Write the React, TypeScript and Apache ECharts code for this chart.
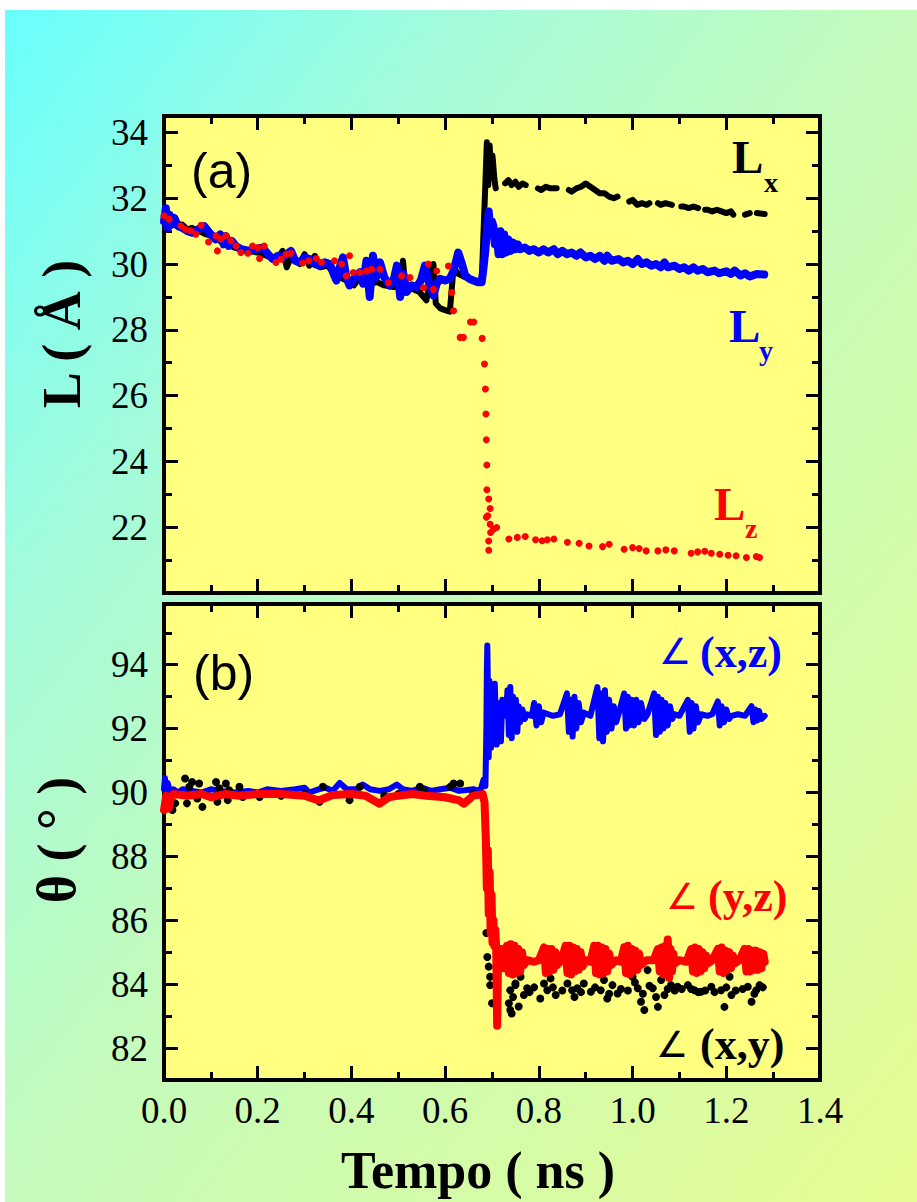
import React, { useEffect, useRef } from "react";
import * as echarts from "echarts";

// ---------- axis ticks ----------
const xMin = 0, xMax = 1.4, xStep = 0.2;
const aMin = 20, aMax = 34.5;
const aMajor = [22, 24, 26, 28, 30, 32, 34];
const aMinor = [21, 23, 25, 27, 29, 31, 33];
const bMin = 81, bMax = 95.9;
const bMajor = [82, 84, 86, 88, 90, 92, 94];
const bMinor = [83, 85, 87, 89, 91, 93, 95];

// ---------- panel (a): box lengths (Å) vs time (ns) ----------
const lxData: any[] = [
  [0.0, 31.4], [0.01, 31.3], [0.02, 31.35], [0.03, 31.2], [0.039, 31.2], [0.05, 31.05], [0.06, 31.1], [0.075, 31.0],
  [0.09, 30.9], [0.105, 30.85], [0.12, 30.7], [0.135, 30.6], [0.15, 30.5], [0.165, 30.45], [0.18, 30.4], [0.2, 30.35],
  [0.22, 30.25], [0.24, 30.1], [0.253, 30.4], [0.262, 29.9], [0.271, 30.2], [0.29, 30.0], [0.3, 30.3], [0.31, 29.95],
  [0.322, 30.25], [0.333, 29.9], [0.35, 29.95], [0.36, 29.75], [0.375, 29.6], [0.39, 29.5], [0.405, 29.35], [0.418, 29.6],
  [0.43, 29.5], [0.44, 29.4], [0.455, 29.45], [0.47, 29.35], [0.49, 29.3], [0.505, 29.35], [0.51, 30.1], [0.515, 29.3],
  [0.53, 29.25], [0.545, 29.15], [0.56, 28.9], [0.568, 29.5], [0.575, 30.0], [0.58, 28.8], [0.59, 28.65], [0.6, 28.6],
  [0.61, 28.55], [0.618, 29.9], [0.628, 29.7], [0.643, 29.6], [0.66, 29.5], [0.678, 29.45], [0.682, 31.0], [0.686, 32.5],
  [0.689, 33.7], [0.692, 32.4], [0.695, 33.6], [0.698, 32.8], [0.701, 33.3], [0.705, 32.6], [0.708, 32.3],
  [0.718, "-"],
  [0.728, 32.45], [0.735, 32.55], [0.742, 32.4], [0.75, 32.5], [0.757, 32.35], [0.765, 32.45], [0.772, 32.4],
  [0.785, "-"],
  [0.798, 32.3], [0.805, 32.25], [0.815, 32.35], [0.825, 32.3], [0.838, 32.3],
  [0.85, "-"],
  [0.864, 32.25], [0.87, 32.2], [0.88, 32.3], [0.89, 32.35], [0.9, 32.45], [0.91, 32.35], [0.92, 32.25], [0.93, 32.15],
  [0.94, 32.15], [0.95, 32.05], [0.96, 32.0], [0.968, 32.05],
  [0.98, "-"],
  [0.993, 31.9], [1.0, 31.95], [1.01, 31.8], [1.02, 31.85], [1.03, 31.8], [1.036, 31.85],
  [1.045, "-"],
  [1.054, 31.85], [1.06, 31.8], [1.07, 31.85], [1.084, 31.8],
  [1.095, "-"],
  [1.104, 31.75], [1.11, 31.75], [1.12, 31.7], [1.13, 31.75], [1.14, 31.7],
  [1.148, "-"],
  [1.155, 31.65], [1.16, 31.65], [1.17, 31.6], [1.18, 31.65], [1.19, 31.6], [1.2, 31.55], [1.21, 31.6], [1.215, 31.5],
  [1.228, "-"],
  [1.24, 31.5], [1.25, 31.55], [1.256, "-"], [1.265, 31.55], [1.282, 31.52],
];

const lyData: number[][] = [
  [0.0, 31.3], [0.004, 31.7], [0.008, 31.1], [0.012, 31.5], [0.017, 31.2], [0.022, 31.4], [0.03, 31.15], [0.039, 31.1],
  [0.05, 31.0], [0.06, 30.95], [0.072, 31.05], [0.086, 31.15], [0.097, 30.95], [0.11, 30.75], [0.12, 30.9], [0.127, 30.6],
  [0.132, 30.85], [0.138, 30.55], [0.145, 30.7], [0.153, 30.55], [0.165, 30.45], [0.182, 30.4], [0.195, 30.45], [0.21, 30.5],
  [0.222, 30.3], [0.232, 30.15], [0.243, 30.25], [0.253, 30.2], [0.262, 30.3], [0.271, 30.4], [0.28, 30.1], [0.289, 30.05],
  [0.3, 30.2], [0.311, 30.15], [0.322, 30.0], [0.332, 29.95], [0.343, 30.05], [0.354, 30.0], [0.362, 29.7], [0.368, 29.5],
  [0.375, 29.9], [0.382, 30.2], [0.389, 29.6], [0.396, 29.35], [0.405, 29.55], [0.418, 29.75], [0.425, 29.4], [0.432, 30.1],
  [0.439, 29.0], [0.446, 30.25], [0.453, 29.6], [0.461, 30.05], [0.47, 29.6], [0.482, 29.35], [0.49, 29.5], [0.497, 29.95],
  [0.504, 29.0], [0.511, 29.7], [0.518, 29.15], [0.528, 29.35], [0.539, 29.3], [0.548, 29.5], [0.557, 29.95], [0.566, 29.4],
  [0.575, 29.05], [0.582, 29.4], [0.589, 29.55], [0.6, 29.5], [0.61, 29.55], [0.618, 29.8], [0.628, 30.35], [0.636, 30.0],
  [0.643, 29.65], [0.652, 29.55], [0.66, 29.5], [0.67, 29.45], [0.678, 29.45], [0.682, 29.9], [0.686, 30.45], [0.69, 31.2],
  [0.693, 31.6], [0.697, 30.9], [0.7, 31.3], [0.703, 31.15], [0.706, 30.6], [0.71, 30.9], [0.714, 30.3], [0.718, 31.0],
  [0.722, 30.3], [0.726, 30.9], [0.73, 30.35], [0.735, 30.75], [0.74, 30.4], [0.745, 30.65], [0.75, 30.45], [0.755, 30.6],
  [0.76, 30.45], [0.77, 30.5], [0.78, 30.4], [0.789, 30.45], [0.8, 30.35], [0.81, 30.45], [0.82, 30.35], [0.832, 30.45],
  [0.84, 30.3], [0.85, 30.4], [0.86, 30.3], [0.87, 30.35], [0.88, 30.25], [0.889, 30.35], [0.9, 30.2], [0.91, 30.25],
  [0.92, 30.15], [0.93, 30.25], [0.94, 30.1], [0.946, 30.25], [0.955, 30.1], [0.97, 30.15], [0.98, 30.05], [0.99, 30.1],
  [1.0, 30.0], [1.011, 30.15], [1.02, 30.0], [1.03, 30.05], [1.04, 29.95], [1.05, 30.0], [1.06, 29.9], [1.068, 30.05],
  [1.075, 29.9], [1.09, 29.95], [1.1, 29.85], [1.11, 29.9], [1.12, 29.8], [1.13, 29.9], [1.139, 29.8], [1.15, 29.85],
  [1.16, 29.75], [1.175, 29.8], [1.185, 29.72], [1.2, 29.78], [1.21, 29.7], [1.218, 29.8], [1.23, 29.65], [1.24, 29.72],
  [1.25, 29.62], [1.265, 29.7], [1.281, 29.68],
];

const lzData: number[][] = [
  [0.0, 31.47], [0.011, 31.36], [0.036, 31.16], [0.046, 31.06], [0.057, 31.01], [0.068, 30.91], [0.079, 31.18], [0.095, 30.67],
  [0.111, 30.86], [0.114, 30.4], [0.121, 30.76], [0.132, 30.86], [0.143, 30.71], [0.154, 30.55], [0.164, 30.35], [0.179, 30.33],
  [0.189, 30.55], [0.2, 30.5], [0.204, 30.17], [0.214, 30.55], [0.239, 30.05], [0.25, 30.15], [0.261, 30.3], [0.271, 30.33],
  [0.296, 30.03], [0.309, 30.1], [0.325, 30.17], [0.336, 30.05], [0.364, 30.1], [0.379, 30.0], [0.389, 29.64], [0.396, 30.25],
  [0.404, 29.74], [0.418, 29.74], [0.432, 29.79], [0.443, 29.84], [0.461, 29.84], [0.479, 29.43], [0.507, 29.64], [0.525, 29.59],
  [0.554, 29.28], [0.564, 30.0], [0.575, 29.23], [0.582, 29.79], [0.607, 29.94], [0.614, 29.13], [0.618, 28.58], [0.632, 27.77],
  [0.639, 27.77], [0.654, 28.24], [0.661, 28.24], [0.679, 27.74], [0.684, 26.96], [0.686, 26.2], [0.687, 25.44], [0.688, 24.66],
  [0.689, 23.89], [0.689, 23.14], [0.693, 22.86], [0.696, 22.57], [0.691, 22.35], [0.688, 22.3], [0.696, 22.09], [0.703, 21.94],
  [0.71, 21.99], [0.697, 21.84], [0.693, 21.58], [0.693, 21.3], [0.736, 21.64], [0.754, 21.69], [0.771, 21.72], [0.793, 21.62],
  [0.807, 21.59], [0.818, 21.62], [0.832, 21.64], [0.861, 21.54], [0.886, 21.51], [0.907, 21.43], [0.936, 21.41], [0.95, 21.48],
  [0.982, 21.33], [1.0, 21.38], [1.014, 21.35], [1.029, 21.28], [1.054, 21.28], [1.071, 21.31], [1.089, 21.28], [1.125, 21.21],
  [1.139, 21.25], [1.154, 21.27], [1.168, 21.21], [1.186, 21.18], [1.204, 21.15], [1.221, 21.13], [1.243, 21.08], [1.264, 21.11],
  [1.271, 21.08],
];

// ---------- panel (b): angles (deg) vs time (ns) ----------
const axzData: number[][] = [
  [0.0, 90.1], [0.002, 90.45], [0.005, 90.0], [0.008, 90.3], [0.012, 90.05], [0.02, 90.1], [0.03, 90.0], [0.04, 90.1],
  [0.06, 90.05], [0.08, 90.0], [0.1, 90.1], [0.12, 90.05], [0.15, 90.0], [0.18, 90.05], [0.2, 90.0], [0.22, 90.1],
  [0.25, 90.05], [0.28, 90.1], [0.3, 90.15], [0.31, 90.0], [0.33, 90.1], [0.345, 90.15], [0.36, 90.05], [0.375, 90.3],
  [0.39, 90.1], [0.41, 90.1], [0.424, 90.25], [0.44, 90.1], [0.46, 90.05], [0.48, 90.1], [0.497, 90.25], [0.51, 90.1],
  [0.53, 90.05], [0.55, 90.15], [0.57, 90.05], [0.59, 90.1], [0.61, 90.15], [0.63, 90.05], [0.66, 90.1], [0.675, 90.05],
  [0.682, 90.4], [0.686, 90.2], [0.688, 92.0], [0.689, 93.8], [0.69, 94.6], [0.6915, 93.0], [0.693, 91.1], [0.6945, 93.5],
  [0.696, 92.2], [0.698, 91.4], [0.7, 93.1], [0.702, 92.0], [0.704, 91.7], [0.706, 93.4], [0.708, 92.3], [0.71, 91.5],
  [0.713, 92.8], [0.716, 92.4], [0.719, 91.6], [0.722, 92.9], [0.725, 92.5], [0.73, 92.4], [0.733, 93.2], [0.736, 91.8],
  [0.739, 93.3], [0.742, 91.7], [0.745, 93.0], [0.748, 92.0], [0.751, 92.9], [0.754, 91.9], [0.757, 92.7], [0.76, 92.2],
  [0.765, 92.6], [0.77, 92.3], [0.775, 92.45], [0.785, 92.4], [0.79, 92.8], [0.795, 92.1], [0.8, 92.7], [0.805, 92.2],
  [0.81, 92.5], [0.82, 92.45], [0.83, 92.4], [0.845, 92.45], [0.86, 93.1], [0.864, 91.9], [0.868, 92.9], [0.872, 91.75],
  [0.876, 93.0], [0.88, 92.0], [0.885, 92.8], [0.89, 92.2], [0.896, 92.5], [0.91, 92.4], [0.925, 93.3], [0.929, 91.7],
  [0.933, 93.1], [0.937, 91.6], [0.941, 93.2], [0.945, 91.9], [0.95, 92.9], [0.955, 92.0], [0.96, 92.7], [0.965, 92.2],
  [0.97, 92.45], [0.982, 93.1], [0.986, 92.0], [0.99, 93.0], [0.994, 92.1], [0.998, 92.9], [1.003, 92.1], [1.008, 92.9],
  [1.013, 92.2], [1.018, 92.8], [1.025, 92.3], [1.032, 92.45], [1.046, 93.1], [1.05, 91.8], [1.054, 93.0], [1.058, 91.9],
  [1.062, 92.9], [1.066, 92.0], [1.07, 92.8], [1.075, 92.1], [1.08, 92.7], [1.085, 92.3], [1.089, 92.45], [1.1, 92.4],
  [1.118, 92.9], [1.122, 91.9], [1.126, 92.8], [1.13, 92.0], [1.135, 92.7], [1.14, 92.2], [1.146, 92.45], [1.16, 92.4],
  [1.17, 92.45], [1.182, 92.85], [1.186, 92.1], [1.19, 92.7], [1.195, 92.2], [1.2, 92.6], [1.206, 92.3], [1.211, 92.4],
  [1.225, 92.45], [1.24, 92.4], [1.254, 92.7], [1.258, 92.2], [1.262, 92.6], [1.266, 92.25], [1.27, 92.55], [1.275, 92.3],
  [1.282, 92.4],
];

const ayzData: number[][] = [
  [0.0, 89.45], [0.005, 89.9], [0.01, 89.5], [0.015, 89.85], [0.02, 89.95], [0.05, 89.9], [0.08, 89.95], [0.1, 89.85],
  [0.13, 89.95], [0.16, 89.9], [0.2, 89.95], [0.25, 89.95], [0.3, 89.9], [0.33, 89.75], [0.36, 89.92], [0.4, 89.95],
  [0.43, 89.9], [0.46, 89.65], [0.48, 89.85], [0.5, 89.9], [0.53, 89.95], [0.56, 89.9], [0.6, 89.85], [0.63, 89.75],
  [0.64, 89.65], [0.66, 89.9], [0.68, 89.95], [0.684, 89.7], [0.687, 88.5], [0.689, 87.0], [0.691, 88.2], [0.693, 86.2],
  [0.695, 87.5], [0.697, 85.6], [0.699, 86.8], [0.701, 85.3], [0.703, 86.0], [0.705, 85.2], [0.707, 85.7], [0.709, 85.1],
  [0.711, 82.7], [0.713, 85.0], [0.716, 84.6], [0.72, 85.1], [0.725, 84.5], [0.728, 84.75],
  [0.732, 85.2], [0.736, 84.35], [0.74, 85.25], [0.744, 84.3], [0.748, 85.2], [0.752, 84.35], [0.756, 85.1], [0.76, 84.4],
  [0.764, 85.0], [0.768, 84.6], [0.775, 84.75], [0.79, 84.7], [0.8, 84.75],
  [0.811, 85.15], [0.815, 84.35], [0.819, 85.1], [0.823, 84.4], [0.827, 85.1], [0.831, 84.45], [0.835, 85.0], [0.839, 84.6],
  [0.848, 84.75],
  [0.857, 85.2], [0.861, 84.35], [0.865, 85.2], [0.869, 84.3], [0.873, 85.15], [0.877, 84.4], [0.881, 85.1], [0.885, 84.45],
  [0.889, 85.0], [0.893, 84.55], [0.9, 84.75], [0.91, 84.7],
  [0.918, 85.2], [0.922, 84.35], [0.926, 85.2], [0.93, 84.3], [0.934, 85.15], [0.938, 84.35], [0.942, 85.1], [0.946, 84.4],
  [0.95, 84.95], [0.954, 84.6], [0.965, 84.75], [0.975, 84.7],
  [0.982, 85.15], [0.986, 84.35], [0.99, 85.2], [0.994, 84.3], [0.998, 85.1], [1.002, 84.4], [1.006, 85.05], [1.01, 84.45],
  [1.014, 84.95], [1.018, 84.6], [1.03, 84.75], [1.045, 84.75],
  [1.054, 85.1], [1.058, 84.4], [1.062, 85.15], [1.066, 84.3], [1.07, 85.2], [1.073, 84.35], [1.075, 85.4], [1.078, 84.2],
  [1.081, 85.1], [1.084, 84.4], [1.087, 84.95], [1.09, 84.65], [1.1, 84.75], [1.115, 84.7],
  [1.125, 85.1], [1.129, 84.4], [1.133, 85.15], [1.137, 84.35], [1.141, 85.1], [1.145, 84.4], [1.149, 85.0], [1.153, 84.5],
  [1.157, 84.9], [1.161, 84.65], [1.17, 84.75],
  [1.182, 85.1], [1.186, 84.4], [1.19, 85.15], [1.194, 84.35], [1.198, 85.05], [1.202, 84.45], [1.206, 85.0], [1.21, 84.5],
  [1.214, 84.9], [1.218, 84.65], [1.228, 84.75],
  [1.239, 85.1], [1.243, 84.4], [1.247, 85.1], [1.251, 84.4], [1.255, 85.05], [1.259, 84.45], [1.263, 85.05], [1.267, 84.45],
  [1.271, 85.0], [1.275, 84.5], [1.279, 84.95], [1.282, 84.7],
];

const axyData: number[][] = [
  [0.018, 89.45], [0.024, 89.66], [0.045, 90.44], [0.049, 89.66], [0.054, 90.18], [0.06, 90.33], [0.071, 89.81], [0.075, 90.28],
  [0.082, 89.55], [0.111, 90.33], [0.114, 89.71], [0.118, 90.13], [0.132, 90.28], [0.136, 89.76], [0.139, 90.07], [0.161, 90.18],
  [0.168, 89.86], [0.204, 89.86], [0.25, 89.9], [0.3, 89.95], [0.332, 89.71], [0.339, 90.18], [0.396, 89.76], [0.418, 90.18],
  [0.47, 89.9], [0.5, 89.95], [0.546, 90.18], [0.554, 90.07], [0.611, 90.18], [0.618, 90.28], [0.632, 90.28], [0.66, 89.95],
  [0.688, 85.6], [0.69, 84.85], [0.693, 84.55], [0.696, 84.23], [0.696, 83.97], [0.7, 83.4], [0.736, 83.4], [0.739, 83.81],
  [0.742, 83.08], [0.75, 84.02], [0.739, 83.19], [0.75, 83.97], [0.761, 84.23], [0.768, 83.66], [0.775, 83.87], [0.803, 83.55],
  [0.811, 84.02], [0.818, 83.81], [0.825, 84.18], [0.836, 83.66], [0.861, 84.02], [0.871, 83.81], [0.882, 83.87], [0.896, 84.02],
  [0.911, 83.76], [0.932, 83.81], [0.939, 84.13], [0.946, 83.55], [0.957, 83.97], [0.968, 83.71], [1.0, 84.23], [1.011, 83.87],
  [1.018, 83.45], [1.025, 83.19], [1.032, 84.44], [1.043, 83.87], [1.054, 83.29], [1.061, 84.13], [1.068, 83.66], [1.082, 83.97],
  [1.096, 83.92], [1.118, 83.97], [1.132, 83.81], [1.146, 83.76], [1.168, 83.92], [1.189, 83.81], [1.196, 83.29], [1.207, 84.23],
  [1.211, 83.66], [1.246, 83.92], [1.254, 83.45], [1.264, 83.81], [1.271, 83.97],
  [0.745, 83.6], [0.757, 83.3], [0.78, 83.75], [0.79, 83.9], [0.83, 83.9], [0.85, 83.8], [0.876, 83.6], [0.89, 83.75],
  [0.92, 83.9], [0.95, 83.7], [0.975, 83.85], [0.99, 83.8], [1.005, 84.05], [1.022, 83.7], [1.036, 83.95], [1.05, 83.6],
  [1.075, 83.85], [1.09, 83.8], [1.105, 83.85], [1.125, 83.85], [1.14, 83.75], [1.155, 83.8], [1.175, 83.75], [1.2, 83.9],
  [1.22, 83.8], [1.235, 83.85], [1.26, 83.7], [1.278, 83.9],
];

const SERIF = "Liberation Serif";
const SANS = "Liberation Sans";
const BLUE = "#0000ff";
const RED = "#ff0000";
const BLACK = "#000000";

function xAxes(grid: number, labels: boolean) {
  const base = (pos: string, show: boolean) => ({
    type: "value",
    gridIndex: grid,
    position: pos,
    min: xMin,
    max: xMax,
    interval: xStep,
    axisLine: { show: false },
    splitLine: { show: false },
    minorSplitLine: { show: false },
    axisTick: { show: true, inside: true, length: 14, lineStyle: { color: BLACK, width: 3 } },
    minorTick: { show: true, splitNumber: 2, length: 8, lineStyle: { color: BLACK, width: 3 } },
    axisLabel: {
      show: show,
      fontSize: 37,
      fontFamily: SERIF,
      color: BLACK,
      margin: 12,
      formatter: (v: number) => v.toFixed(1),
    },
  });
  return [base("bottom", labels), base("top", false)];
}

function yAxes(grid: number, min: number, max: number, major: number[], minor: number[]) {
  const base = (pos: string, ticks: number[], len: number, labels: boolean) => ({
    type: "value",
    gridIndex: grid,
    position: pos,
    min,
    max,
    axisLine: { show: false },
    splitLine: { show: false },
    axisTick: { show: true, inside: true, length: len, customValues: ticks, lineStyle: { color: BLACK, width: 3 } },
    axisLabel: {
      show: labels,
      customValues: major,
      fontSize: 37,
      fontFamily: SERIF,
      color: BLACK,
      margin: 16,
      formatter: (v: number) => String(Math.round(v)),
    },
  });
  return [
    base("left", major, 14, true),
    base("left", minor, 8, false),
    base("right", major, 14, false),
    base("right", minor, 8, false),
  ];
}

function txt(x: number, y: number, text: string, size: number, color: string, opts: any = {}) {
  return {
    type: "text",
    x,
    y,
    rotation: opts.rotation || 0,
    z: 100,
    style: {
      text,
      fill: color,
      fontSize: size,
      fontWeight: opts.weight || "bold",
      fontFamily: opts.family || SERIF,
      align: opts.align || "left",
      textAlign: opts.align || "left",
      verticalAlign: "middle",
      textVerticalAlign: "middle",
    },
  };
}

export default function App() {
  const ref = useRef<HTMLDivElement>(null);
  useEffect(() => {
    if (!ref.current) return;
    const chart = echarts.init(ref.current, null, { renderer: "svg" });
    const gridStyle = { show: true, borderColor: BLACK, borderWidth: 4, backgroundColor: "#ffff80" };
    const option: any = {
      animation: false,
      textStyle: { fontFamily: SERIF },
      backgroundColor: {
        type: "linear",
        x: 0,
        y: 0,
        x2: 1,
        y2: 1,
        colorStops: [
          { offset: 0, color: "#66ffff" },
          { offset: 0.25, color: "#a2fbdc" },
          { offset: 0.5, color: "#c4fbbc" },
          { offset: 1, color: "#e6fc92" },
        ],
      },
      grid: [
        { left: 164, top: 116, width: 656, height: 477, ...gridStyle },
        { left: 164, top: 604, width: 656, height: 476, ...gridStyle },
      ],
      xAxis: [...xAxes(0, false), ...xAxes(1, true)],
      yAxis: [...yAxes(0, aMin, aMax, aMajor, aMinor), ...yAxes(1, bMin, bMax, bMajor, bMinor)],
      series: [
        {
          name: "Lx",
          type: "line",
          xAxisIndex: 0,
          yAxisIndex: 0,
          data: lxData,
          showSymbol: false,
          connectNulls: false,
          lineStyle: { color: BLACK, width: 6, cap: "round", join: "round" },
          itemStyle: { color: BLACK },
          z: 2,
        },
        {
          name: "Ly",
          type: "line",
          xAxisIndex: 0,
          yAxisIndex: 0,
          data: lyData,
          showSymbol: false,
          lineStyle: { color: BLUE, width: 8, cap: "round", join: "round" },
          itemStyle: { color: BLUE },
          z: 3,
        },
        {
          name: "Lz",
          type: "scatter",
          xAxisIndex: 0,
          yAxisIndex: 0,
          data: lzData,
          symbolSize: 7,
          itemStyle: { color: RED, opacity: 1 },
          z: 4,
        },
        {
          name: "∠(x,z)",
          type: "line",
          xAxisIndex: 2,
          yAxisIndex: 4,
          data: axzData,
          showSymbol: false,
          lineStyle: { color: BLUE, width: 6, cap: "round", join: "round" },
          itemStyle: { color: BLUE },
          z: 2,
        },
        {
          name: "∠(x,y)",
          type: "scatter",
          xAxisIndex: 2,
          yAxisIndex: 4,
          data: axyData,
          symbolSize: 8,
          itemStyle: { color: BLACK, opacity: 1 },
          z: 3,
        },
        {
          name: "∠(y,z)",
          type: "line",
          xAxisIndex: 2,
          yAxisIndex: 4,
          data: ayzData,
          showSymbol: false,
          lineStyle: { color: RED, width: 8, cap: "round", join: "round" },
          itemStyle: { color: RED },
          z: 4,
        },
      ],
      graphic: [
        { type: "rect", shape: { x: 0, y: 0, width: 917, height: 10 }, style: { fill: "#ffffff" }, z: 100 },
        { type: "rect", shape: { x: 0, y: 0, width: 5, height: 1202 }, style: { fill: "#ffffff" }, z: 100 },
        txt(62, 334, "L ( Å )", 54, BLACK, { align: "center", rotation: Math.PI / 2 }),
        txt(57, 840, "θ ( ° )", 54, BLACK, { align: "center", rotation: Math.PI / 2 }),
        txt(478, 1170, "Tempo ( ns )", 52, BLACK, { align: "center" }),
        txt(191, 171, "(a)", 50, BLACK, { weight: "normal", family: SANS }),
        txt(193, 673, "(b)", 50, BLACK, { weight: "normal", family: SANS }),
        txt(732, 157, "L", 47, BLACK),
        txt(764, 182, "x", 28, BLACK),
        txt(729, 326, "L", 47, BLUE),
        txt(759, 350, "y", 28, BLUE),
        txt(714, 504, "L", 47, RED),
        txt(745, 528, "z", 28, RED),
        txt(659, 651, "∠", 36, BLUE, { weight: "normal", family: "DejaVu Sans" }),
        txt(700, 652, "(x,z)", 44, BLUE),
        txt(666, 896, "∠", 36, RED, { weight: "normal", family: "DejaVu Sans" }),
        txt(708, 896, "(y,z)", 44, RED),
        txt(656, 1044, "∠", 36, BLACK, { weight: "normal", family: "DejaVu Sans" }),
        txt(700, 1044, "(x,y)", 44, BLACK),
      ],
    };
    chart.setOption(option);
    return () => chart.dispose();
  }, []);
  return <div ref={ref} style={{ position: "absolute", left: 0, top: 0, width: 917, height: 1202 }} />;
}
